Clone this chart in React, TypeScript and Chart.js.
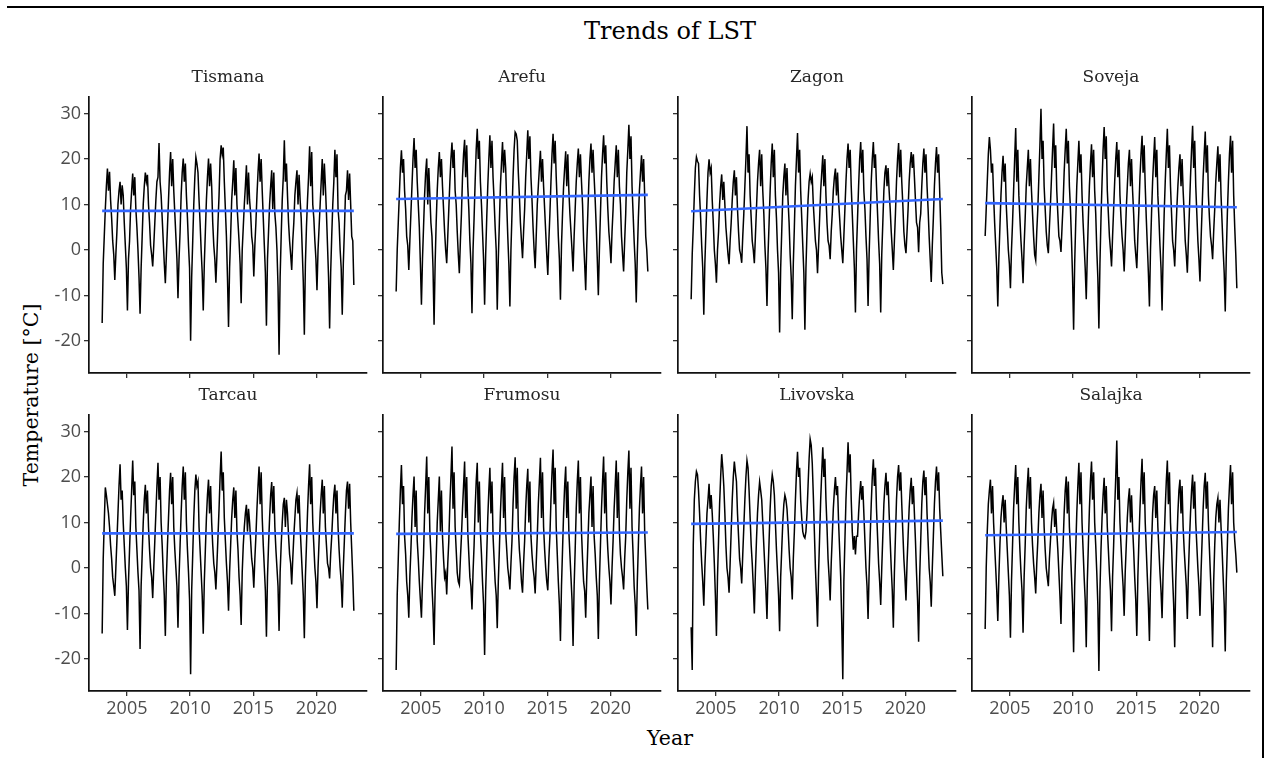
import React, { useEffect, useRef } from "react";
import { Chart, registerables } from "chart.js";

Chart.register(...registerables);

// ---------- data ----------
const sites = ["Tismana", "Arefu", "Zagon", "Soveja", "Tarcau", "Frumosu", "Livovska", "Salajka"];
const firstYear = 2003;
const xTicks = [2005, 2010, 2015, 2020];
const yTicks = [-20, -10, 0, 10, 20, 30];
const trendStart = [8.6, 11.2, 8.5, 10.3, 7.6, 7.5, 9.7, 7.2];
const trendEnd = [8.6, 12.1, 11.2, 9.4, 7.6, 7.8, 10.4, 7.9];

// monthly LST, Jan 2003 .. Dec 2022
const tismana = [
  -16, -3, 3, 9, 14, 17.9, 13, 17.2, 11, 7, 2, -1,
  -6.6, -1, 4, 10, 13, 15, 10, 14.2, 12, 6, 1, -4,
  -13.3, -2, 2, 9, 13, 16.8, 12, 16, 9, 5, 0, -6,
  -14, -4, 3, 10, 14, 17, 15, 16.5, 10, 6, 1, -1,
  -3.6, 1, 6, 11, 15, 16, 23.5, 15, 12, 7, 2, -3,
  -7.3, -1, 5, 11, 17, 21.5, 14, 20, 13, 8, 3, -2,
  -10.6, -2, 4, 12, 17, 20.1, 15, 19, 12, 7, 1, -4,
  -19.9, -6, 2, 10, 16, 20.4, 19, 17, 11, 6, 0, -5,
  -13.3, -3, 4, 11, 16, 20.1, 14, 19, 14, 6, 1, -2,
  -7.2, -1, 6, 12, 20, 23, 21, 22.5, 15, 9, 3, -6,
  -16.9, -4, 3, 11, 15, 19.7, 12, 18, 10, 6, 2, -3,
  -11.7, 0, 5, 10, 14, 18.6, 10, 17, 11, 8, 3, 1,
  -5.8, 1, 6, 12, 17, 21.2, 15, 20, 13, 7, 1, -5,
  -16.6, -2, 4, 10, 14, 17.5, 9, 17, 8, 5, 0, -8,
  -23, -6, 3, 11, 16, 24.1, 15, 19, 12, 6, 2, -1,
  -4.4, 2, 6, 12, 15, 17.5, 10, 16.5, 11, 7, 0, -7,
  -18.6, -3, 5, 11, 16, 22.8, 14, 21.5, 10, 7, 2, -2,
  -8.8, 0, 5, 10, 15, 20, 12, 19, 14, 8, 1, -6,
  -17.2, -5, 3, 10, 15, 22, 16, 21, 9, 6, 0, -4,
  -14.2, -3, 4, 12, 13, 17.5, 11, 16.8, 10, 3, 2, -7.7,
];

const arefu = [
  -9.1, 0, 6, 12, 18, 21.9, 17, 20, 13, 9, 3, 1,
  -4.4, 2, 8, 14, 20, 24.6, 18, 22, 15, 10, 5, -3,
  -12, -2, 5, 12, 17, 20.1, 10, 18, 12, 6, 3, -4,
  -16.4, -3, 6, 13, 18, 21.5, 16, 20, 14, 9, 4, 0,
  -2.9, 3, 9, 15, 20, 23.6, 18, 22, 13, 10, 4, -1,
  -5.1, 2, 8, 16, 21, 24.2, 16, 23, 14, 9, 2, -3,
  -13.9, 0, 7, 15, 22, 26.6, 20, 24, 15, 10, 4, -2,
  -12, -1, 7, 14, 20, 25.2, 18, 24, 16, 11, 5, 0,
  -13.1, -2, 6, 14, 19, 23.7, 17, 22, 18, 10, 3, -3,
  -12.4, 0, 8, 16, 22, 25.9, 25.5, 24, 17, 12, 6, 2,
  -1.8, 4, 9, 16, 21, 26.3, 20, 25, 16, 11, 5, 0,
  -4, 3, 10, 14, 18, 21.8, 15, 20, 14, 9, 4, -1,
  -5.5, 2, 8, 15, 21, 25.5, 19, 24, 16, 10, 3, -2,
  -10.9, 1, 8, 14, 18, 21.7, 14, 21, 13, 8, 4, 0,
  -4.7, 3, 9, 15, 19, 22.3, 16, 21, 15, 10, 2, -3,
  -8.8, 1, 8, 15, 20, 23.4, 17, 22, 16, 11, 5, -2,
  -9.9, 0, 8, 16, 21, 25.2, 19, 23, 15, 9, 4, 1,
  -2.9, 4, 9, 15, 19, 23, 16, 22, 14, 10, 3, -1,
  -4.7, 2, 8, 17, 22, 27.5, 20, 25, 14, 8, 2, -3,
  -11.5, -1, 7, 13, 17, 20.8, 15, 20, 12, 3, 0, -4.7,
];

const zagon = [
  -10.8, -1, 5, 12, 18, 20.4, 19.5, 19, 12, 7, 1, -4,
  -14.2, -3, 4, 11, 17, 19.9, 17, 18, 11, 6, 0, -3,
  -7.2, 0, 4, 10, 14, 16.6, 11, 15, 10, 5, 2, -1,
  -3.1, 2, 6, 11, 15, 17.5, 12, 16, 9, 4, 0, -1,
  -2.8, 3, 8, 14, 20, 27.2, 17, 21, 12, 7, 2, 0,
  -2.9, 3, 9, 15, 19, 22, 14, 21, 13, 8, 1, -4,
  -12.3, -1, 6, 13, 19, 23.4, 16, 22, 12, 7, 0, -5,
  -18.1, -4, 4, 12, 16, 19, 12, 18, 11, 6, -1, -6,
  -15.2, -3, 5, 14, 20, 25.7, 17, 22, 13, 7, 1, -5,
  -17.5, -4, 4, 11, 15, 16.8, 15, 16, 10, 6, 2, 0,
  -5.1, 1, 7, 13, 17, 20.8, 14, 20, 12, 6, 2, 1,
  -2, 4, 8, 13, 16, 17.9, 12, 17, 11, 7, 3, 0,
  -2.9, 3, 9, 15, 20, 23.4, 18, 22, 14, 8, 2, -4,
  -13.7, 0, 7, 14, 20, 23.7, 17, 22, 13, 9, 3, -2,
  -12.3, -1, 7, 15, 20, 23.7, 18, 21, 14, 8, 2, -3,
  -13.7, -1, 6, 13, 17, 18.6, 14, 18, 13, 9, 4, 0,
  -4.4, 2, 8, 15, 20, 23.5, 16, 22, 15, 10, 4, 1,
  -0.7, 4, 9, 15, 19, 21.5, 18, 21, 16, 11, 6, 5,
  -0.5, 6, 8, 14, 19, 22.3, 17, 21, 14, 9, 3, -2,
  -7, 1, 7, 14, 19, 22.6, 17, 21, 13, 5, -5, -7.5,
];

const soveja = [
  3.1, 9, 15, 21, 24.8, 22, 17, 19, 12, 6, 1, -4,
  -12.4, -2, 5, 12, 17, 20.7, 15, 19, 10, 5, 0, -3,
  -8.4, 0, 6, 13, 20, 26.8, 15, 22, 12, 7, 2, -2,
  -7.3, 1, 7, 14, 18, 22, 14, 20, 13, 8, 3, -1,
  -2.2, 4, 9, 16, 23, 31, 20, 24, 14, 9, 4, 1,
  -0.7, 5, 10, 16, 22, 27.8, 18, 23, 13, 8, 3, 2,
  -0.4, 5, 10, 17, 22, 26.6, 19, 24, 14, 9, 2, -6,
  -17.5, -3, 6, 14, 19, 24, 17, 21, 12, 6, 1, -4,
  -10.8, -1, 7, 14, 19, 23.2, 16, 22, 13, 8, 0, -6,
  -17.2, -3, 7, 15, 22, 27, 20, 25, 13, 8, 3, 0,
  -3.6, 3, 9, 15, 20, 23.7, 16, 22, 12, 7, 3, 0,
  -4.7, 2, 9, 14, 19, 22, 14, 20, 13, 8, 2, -1,
  -4, 3, 9, 16, 21, 25.1, 17, 23, 14, 7, 1, -5,
  -12.4, 0, 8, 15, 20, 24.8, 16, 22, 12, 7, 1, -4,
  -13.3, -1, 8, 15, 21, 26.6, 18, 23, 14, 8, 2, 0,
  -3.6, 3, 9, 14, 18, 21, 14, 20, 13, 8, 2, -1,
  -5, 2, 9, 16, 22, 27.3, 18, 24, 14, 8, 2, -2,
  -6.9, 2, 9, 16, 21, 26, 17, 23, 12, 7, 3, 1,
  -2, 4, 9, 15, 19, 22.8, 15, 21, 12, 6, 0, -5,
  -13.5, -1, 8, 15, 21, 25.1, 17, 24, 12, 5, -1, -8.4,
];

const tarcau = [
  -14.4, 2, 10, 17.7, 16, 14, 12, 9, 5, 2, -2, -4,
  -6.1, 0, 6, 12, 18, 22.8, 15, 17, 10, 5, 0, -4,
  -13.6, -3, 4, 11, 17, 23.6, 16, 19, 9, 4, -1, -5,
  -17.8, -4, 3, 10, 15, 18.3, 12, 17, 9, 4, 0, -2,
  -6.6, 0, 6, 12, 18, 23.1, 15, 20, 10, 5, -1, -6,
  -14.9, -2, 5, 11, 17, 20.9, 14, 20, 9, 4, 0, -4,
  -13.1, -2, 5, 12, 18, 22.3, 15, 21, 10, 4, -1, -7,
  -23.3, -5, 3, 11, 17, 20.5, 18, 19, 9, 4, -1, -6,
  -14.4, -3, 4, 11, 16, 19.4, 12, 18, 10, 5, 1, -1,
  -4.7, 1, 7, 13, 20, 25.6, 17, 21, 11, 6, 1, -3,
  -9.4, -1, 5, 11, 15, 17.7, 11, 17, 8, 4, -2, -6,
  -12.5, -1, 5, 9, 12, 13.9, 8, 13, 10, 6, 2, 0,
  -4.3, 2, 7, 13, 18, 22.3, 14, 21, 11, 5, 0, -5,
  -15.1, -2, 5, 11, 16, 18.9, 12, 18, 9, 4, 0, -4,
  -13.8, -1, 5, 10, 14, 15.4, 9, 15, 12, 7, 3, 1,
  -3.6, 2, 7, 11, 15, 16.5, 12, 16, 9, 4, -1, -6,
  -15.4, -2, 5, 12, 18, 22.8, 14, 20, 10, 5, 0, -3,
  -8.8, 0, 6, 12, 16, 19.4, 12, 18, 9, 5, 1, 0,
  -2.3, 3, 7, 12, 16, 18.3, 12, 17, 9, 4, 0, -3,
  -8.7, 0, 6, 12, 17, 19, 13, 18.5, 10, 4, -2, -9.4,
];

const frumosu = [
  -22.4, -6, 2, 10, 17, 22.6, 14, 18, 7, 3, -3, -6,
  -10.9, -2, 4, 11, 16, 20.1, 9, 17, 6, 2, -3, -7,
  -10.9, -3, 3, 12, 18, 24.5, 12, 20, 8, 3, -4, -9,
  -16.9, -5, 2, 10, 15, 20.1, 8, 17, 7, 2, -2, -1,
  -5.8, 1, 6, 14, 20, 26.7, 13, 21, 9, 4, -1, -3,
  -3.7, 2, 7, 13, 18, 23.4, 11, 20, 8, 3, -2, -4,
  -9.1, -1, 5, 13, 19, 23.1, 10, 19, 8, 3, -3, -8,
  -19.1, -5, 3, 11, 17, 22, 12, 19, 7, 2, -3, -6,
  -13.2, -3, 4, 12, 18, 23.1, 11, 20, 8, 4, 0, -2,
  -4.7, 1, 6, 14, 20, 24.3, 13, 22, 9, 4, 1, -3,
  -5.4, 1, 6, 13, 18, 21.8, 10, 19, 7, 3, 0, -2,
  -5.6, 1, 7, 14, 19, 24.2, 11, 21, 9, 4, 0, -3,
  -4.9, 2, 7, 15, 21, 26, 14, 22, 9, 3, -3, -8,
  -16, -4, 4, 12, 18, 22.3, 11, 19, 8, 3, -2, -7,
  -17.1, -4, 4, 13, 19, 23.6, 12, 20, 8, 2, -3, -5,
  -10.9, -2, 5, 12, 16, 20.1, 9, 18, 7, 3, -2, -6,
  -15.6, -3, 5, 13, 19, 24.5, 12, 21, 9, 4, 0, -3,
  -8, 0, 6, 13, 18, 23.6, 11, 21, 8, 3, 0, -2,
  -4.7, 2, 7, 15, 21, 25.8, 13, 22, 9, 3, -4, -8,
  -14.9, -3, 5, 13, 18, 22.3, 12, 20, 8, 2, -4, -9.1,
];

const livovska = [
  -13, -22.4, 5, 15, 19, 21.2, 20.5, 17, 12, 6, 1, -3,
  -8.3, 0, 6, 12, 15, 18.5, 13, 16, 12, 7, 1, -6,
  -14.9, -2, 6, 14, 20, 25, 22, 18, 12, 5, 0, -2,
  -5.4, 1, 8, 15, 20, 23.4, 21, 19, 12, 7, 2, 0,
  -3.4, 3, 9, 15, 20, 23.6, 22, 17, 11, 5, 1, -4,
  -10, -1, 6, 12, 16, 18.9, 17, 15, 10, 5, 0, -5,
  -11.2, -1, 6, 13, 18, 20.5, 19, 16, 10, 4, -1, -6,
  -13.9, -2, 4, 10, 14, 16, 15, 13, 9, 4, 0, -2,
  -6.9, 2, 8, 15, 21, 25.5, 20, 22, 15, 11, 8, 7,
  6.6, 8, 12, 18, 24, 28.3, 27, 23, 16, 8, 0, -6,
  -12.9, -1, 7, 15, 21, 26.5, 20, 24, 15, 9, 2, -2,
  -7.1, 1, 7, 13, 17, 20, 16, 18, 10, 4, -2, -12,
  -24.4, -3, 6, 15, 21, 27.6, 21, 25, 15, 8, 4, 7,
  3, 7, 7, 12, 16, 19.1, 15, 18, 12, 6, 0, -4,
  -11.2, -1, 7, 14, 20, 23.9, 18, 22, 13, 7, 1, -3,
  -8.1, 0, 7, 14, 18, 20.9, 16, 19, 12, 6, 0, -5,
  -13.1, -1, 7, 15, 20, 22.6, 17, 21, 14, 8, 2, -2,
  -7.1, 1, 7, 13, 17, 19.8, 14, 18, 12, 6, -1, -7,
  -16.2, -2, 6, 14, 19, 21.4, 16, 20, 12, 6, 0, -3,
  -8.5, 0, 7, 14, 19, 22.3, 17, 21, 13, 8, 3, -1.8,
];

const salajka = [
  -13.4, 0, 8, 14, 17, 19.4, 12, 18, 10, 5, 0, -5,
  -11.6, -2, 5, 11, 14, 16, 10, 15, 9, 4, -1, -6,
  -15.3, -3, 5, 13, 18, 22.6, 14, 20, 10, 4, -1, -5,
  -14.2, -2, 5, 13, 18, 22, 13, 20, 10, 5, 1, -2,
  -5.6, 1, 6, 12, 16, 18.5, 11, 17, 9, 4, 0, -2,
  -4, 2, 6, 10, 13, 14.3, 9, 13, 8, 4, -1, -6,
  -12.3, -1, 5, 12, 17, 20.1, 12, 19, 9, 4, -2, -8,
  -18.5, -4, 4, 12, 18, 23.1, 14, 21, 10, 4, -2, -7,
  -17.4, -3, 5, 13, 19, 23.4, 15, 21, 10, 5, -1, -8,
  -22.6, -5, 4, 11, 16, 19.8, 12, 18, 9, 4, -1, -5,
  -13.9, -2, 5, 13, 20, 28, 15, 20, 10, 5, 0, -4,
  -10.5, -1, 5, 11, 15, 17.5, 10, 16, 9, 4, -2, -7,
  -14.9, -2, 6, 13, 19, 24, 14, 21, 10, 4, -2, -8,
  -16, -3, 5, 12, 16, 18, 11, 17, 9, 4, -1, -5,
  -11, -1, 6, 13, 19, 23.6, 14, 21, 10, 5, -2, -8,
  -17.4, -3, 5, 12, 17, 19.4, 12, 18, 9, 4, 0, -4,
  -11.2, -1, 6, 12, 17, 20.5, 13, 19, 10, 5, 0, -4,
  -10.5, -1, 6, 13, 18, 20.9, 13, 19, 10, 4, -2, -8,
  -17.4, -3, 5, 11, 14, 15.4, 10, 15, 9, 4, -2, -8,
  -18.3, -3, 5, 13, 18, 22.6, 14, 21, 10, 6, 3, -1,
];

const series = [tismana, arefu, zagon, soveja, tarcau, frumosu, livovska, salajka];

// ---------- layout ----------
const PANEL_W = 278;
const PANEL_H = 276;
const colLeft = [89, 383, 678, 972];
const rowTop = [97, 415];
const Y_W = 60;
const TITLE_H = 34;
const X_H = 40;
const PAD_R = 10;
const SERIF = "'DejaVu Serif', serif";
const SANS = "'Open Sans', 'Noto Sans', sans-serif";

function Panel({ index }: { index: number }) {
  const ref = useRef<HTMLCanvasElement>(null);
  const col = index % 4;
  const row = Math.floor(index / 4);

  useEffect(() => {
    const values = series[index];
    const pts = values.map((v, i) => ({ x: firstYear + (i + 0.5) / 12, y: v }));
    const x0 = pts[0].x;
    const x1 = pts[pts.length - 1].x;
    const chart = new Chart(ref.current as HTMLCanvasElement, {
      type: "line",
      data: {
        datasets: [
          {
            data: [
              { x: x0, y: trendStart[index] },
              { x: x1, y: trendEnd[index] },
            ],
            borderColor: "#3366FF",
            borderWidth: 2.6,
            pointRadius: 0,
          },
          {
            data: pts,
            borderColor: "#000000",
            borderWidth: 1.5,
            pointRadius: 0,
            tension: 0,
          },
        ],
      },
      options: {
        responsive: false,
        animation: false,
        devicePixelRatio: 1,
        layout: { padding: { top: 0, right: PAD_R, bottom: 0, left: 0 } },
        plugins: {
          legend: { display: false },
          tooltip: { enabled: false },
          title: {
            display: true,
            text: sites[index],
            fullSize: false,
            color: "#262626",
            font: { family: SERIF, size: 17, weight: "normal" },
            padding: { top: 4, bottom: 9.6 },
          },
        },
        scales: {
          x: {
            type: "linear",
            min: 2002,
            max: 2024,
            afterBuildTicks: (s: any) => {
              s.ticks = xTicks.map((v) => ({ value: v }));
            },
            afterFit: (s: any) => {
              s.height = X_H;
            },
            ticks: {
              display: row === 1,
              color: "#4d4d4d",
              font: { family: SANS, size: 18 },
              padding: 2,
              maxRotation: 0,
              autoSkip: false,
              callback: (v: any) => String(v),
            },
            grid: {
              drawOnChartArea: false,
              drawTicks: true,
              tickLength: 5,
              color: "#333333",
              lineWidth: 1.3,
            },
            border: { display: true, color: "#111111", width: 1.7 },
          },
          y: {
            type: "linear",
            min: -27,
            max: 33.6,
            afterBuildTicks: (s: any) => {
              s.ticks = yTicks.map((v) => ({ value: v }));
            },
            afterFit: (s: any) => {
              s.width = Y_W;
            },
            ticks: {
              display: col === 0,
              color: "#4d4d4d",
              font: { family: SANS, size: 18 },
              padding: 3,
              autoSkip: false,
              callback: (v: any) => String(v),
            },
            grid: {
              drawOnChartArea: false,
              drawTicks: true,
              tickLength: 5,
              color: "#333333",
              lineWidth: 1.3,
            },
            border: { display: true, color: "#111111", width: 1.7 },
          },
        },
      },
    } as any);
    return () => chart.destroy();
  }, [index, col, row]);

  const w = Y_W + PANEL_W + PAD_R;
  const h = TITLE_H + PANEL_H + X_H;
  return (
    <canvas
      ref={ref}
      width={w}
      height={h}
      style={{
        position: "absolute",
        left: colLeft[col] - Y_W,
        top: rowTop[row] - TITLE_H,
        width: w,
        height: h,
      }}
    />
  );
}

const textBase: React.CSSProperties = {
  position: "absolute",
  whiteSpace: "nowrap",
  lineHeight: 1,
  fontFamily: SERIF,
  color: "#000",
};

export default function App() {
  return (
    <div
      style={{
        position: "absolute",
        left: 0,
        top: 0,
        width: 1268,
        height: 758,
        background: "#ffffff",
        overflow: "hidden",
      }}
    >
      <div style={{ position: "absolute", left: 7, top: 6, width: 1257, height: 2, background: "#000" }} />
      <div style={{ position: "absolute", left: 1262, top: 6, width: 2, height: 752, background: "#000" }} />
      <div style={{ ...textBase, left: 670, top: 31, fontSize: 24, transform: "translate(-50%, -50%)" }}>
        Trends of LST
      </div>
      <div
        style={{
          ...textBase,
          left: 31,
          top: 395,
          fontSize: 20.5,
          transform: "translate(-50%, -50%) rotate(-90deg)",
        }}
      >
        Temperature [°C]
      </div>
      <div style={{ ...textBase, left: 670, top: 738, fontSize: 20.5, transform: "translate(-50%, -50%)" }}>
        Year
      </div>
      {sites.map((s, i) => (
        <Panel key={s} index={i} />
      ))}
    </div>
  );
}
